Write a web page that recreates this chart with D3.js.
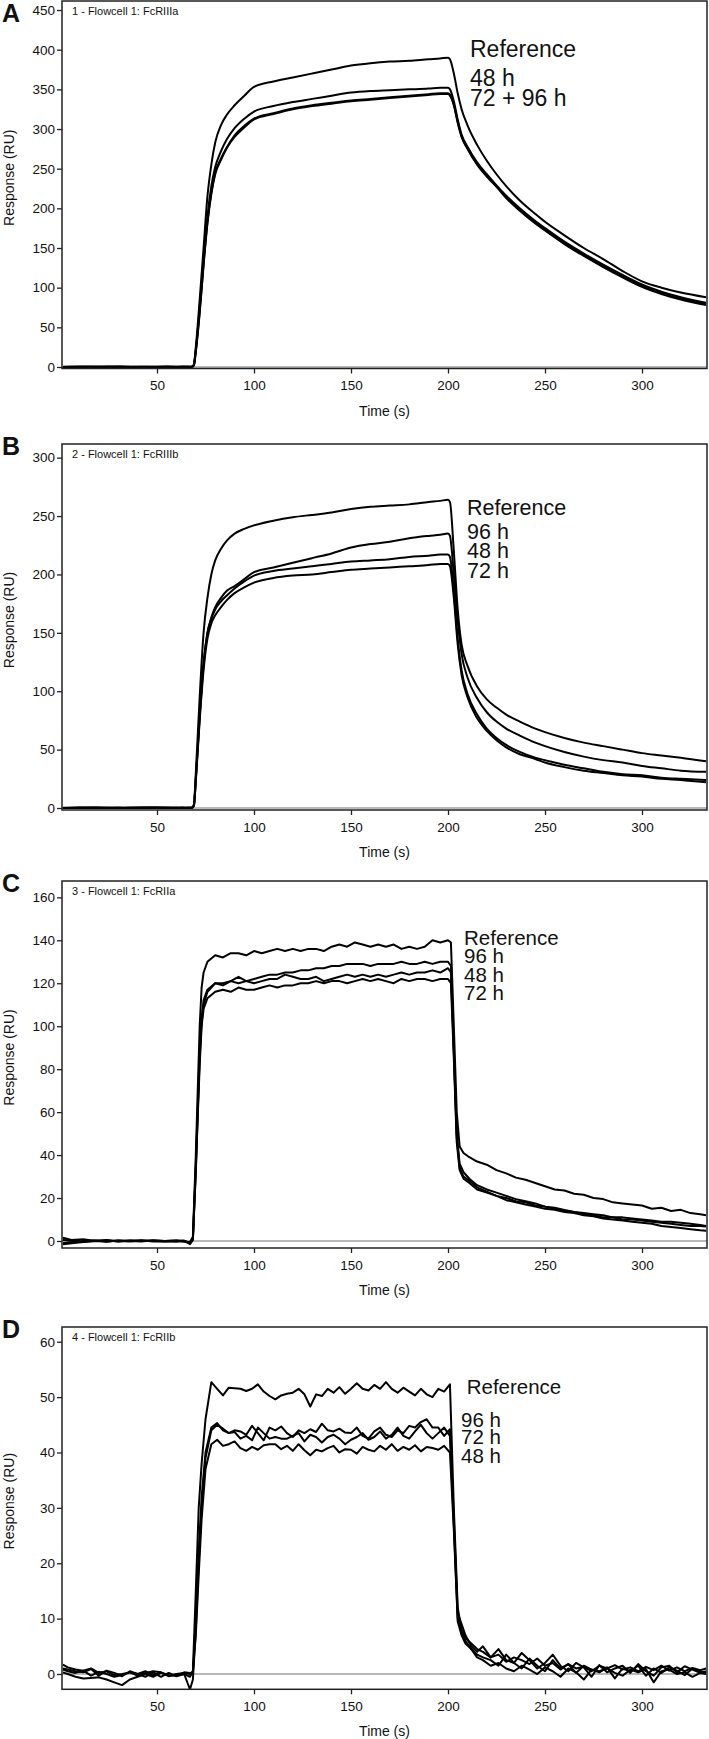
<!DOCTYPE html>
<html><head><meta charset="utf-8">
<script src="https://cdn.jsdelivr.net/npm/d3@7"></script>
<style>
body{margin:0;background:#fff}
svg{display:block}
text{font-family:"Liberation Sans",Arial,Helvetica,sans-serif;fill:#111}
</style>
</head><body>
<svg id="c" width="709" height="1739"></svg>
<script>
// ---------------- DATA ----------------
const xTicks = [50,100,150,200,250,300];
const xLabel = "Time (s)";
const yLabel = "Response (RU)";

// Panel A : FcRIIIa
const titleA = "1 - Flowcell 1: FcRIIIa";
const yTicksA = [0,50,100,150,200,250,300,350,400,450];
const labelsA = ["Reference","48 h","72 + 96 h"];
const timeA = [1.5,10,20,30,40,50,60,66,68,69,70,72,74,76,78,80,83,86,90,95,100,110,120,130,140,150,160,170,180,190,196,200,201,203,205,207,210,215,220,225,230,237,245,250,260,270,280,290,300,310,320,333];
const refA = [0,0.5,0,0.3,0,0.4,0,0.2,0.5, 3,25,85,150,215,255,283,305,318,330, 342,353,360,365,370,375,380,383,385,386, 388,389,390,388,370,345,325,305,280,260, 243,228,210,193,183,166,150,136,121,108, 100,94,88];
const h48A = [0,0.3,0.5,0,0.2,0,0.4,0,0.3, 3,22,75,135,190,228,252,272,287,301, 313,322,329,334,338,342,346,348,349,350, 351,352,352,350,335,312,293,278,258,243, 229,216,200,184,175,158,143,129,116,104, 95,88,81];
const h72A = [0,0,0.4,0.2,0,0.3,0,0.5,0, 2,20,70,130,183,220,245,263,277,292, 304,313,320,326,330,333,336,338,340,342, 344,345,345,343,330,308,290,275,255,240, 227,213,197,181,172,155,140,126,113,101, 92,85,78];
const h96A = [0.3,0,0,0.5,0.2,0,0.3,0,0.4, 2,19,68,128,181,218,243,261,276,290, 302,312,319,325,329,332,335,337,339,341, 343,344,344,342,331,309,291,276,256,241, 228,214,198,182,173,156,141,127,114,102, 93,86,79];

// Panel B : FcRIIIb
const titleB = "2 - Flowcell 1: FcRIIIb";
const yTicksB = [0,50,100,150,200,250,300];
const labelsB = ["Reference","96 h","48 h","72 h"];
const timeB = timeA;
const refB = [0,0.5,0.3,0,0.5,0.2,0,0.4,0.3, 3,30,95,150,180,200,212,222,229,235, 239,242,246,249,251,253,256,258,259,260, 262,263,264,262,220,170,140,122,104,93, 86,80,74,68,65,60,56,53,50,47, 45,43,40];
const h96B = [0,0,0.4,0.2,0,0.4,0.3,0,0.5, 2,25,80,125,150,163,172,180,186,190, 196,202,206,210,214,218,223,226,228,231, 233,234,235,233,200,160,132,112,94,82, 74,68,62,56,53,48,44,41,39,36, 34,32,31];
const h48B = [0.3,0,0,0.4,0.2,0,0.5,0,0.2, 2,24,78,122,150,162,170,177,182,188, 194,199,203,205,207,209,211,212,213,215, 216,217,217,215,185,145,118,98,80,68, 60,54,48,43,41,37,34,31,29,28, 26,25,24];
const h72B = [0,0.4,0.2,0,0.3,0.5,0,0.3,0, 2,23,75,118,145,158,165,172,178,184, 189,193,197,199,200,202,204,205,206,207, 208,209,209,207,180,140,114,95,77,66, 58,52,46,42,39,35,32,30,28,27, 25,24,22];

// Panel C : FcRIIa
const titleC = "3 - Flowcell 1: FcRIIa";
const yTicksC = [0,20,40,60,80,100,120,140,160];
const labelsC = ["Reference","96 h","48 h","72 h"];
const timeC = [1.5,6,12,18,24,30,36,42,48,54,60,64, 67,68.5,70,71,72,73,74,76,
  80,84,88,92,96,100,104,108,112,116,120,124,128,132,136,140,144,148,152,156,160,164,168,172,176,180,184,188,192,196,200,
  201.5,203,204.5,206,208,211,215,
  220,225,230,235,240,245,250,255,260,265,270,275,280,285,290,295,300,305,310,315,320,325,330,333];
const refC = [1.5,0.5,0.8,0,0.5,-0.3,0.3,0,0.2,0,0.2,-0.3,
  -0.5,2,40,70,100,118,125,130,
  133,132,134,134,133,135,134,135,136,135,136,135,136,136,135,137,138,137,139,138,137,138,137,138,136,137,136,137,140,139,140,
  139,100,60,44,41,39,37,
  35.5,33,31.5,29.5,28.5,27,25.5,24,23.5,22,21.5,20,19.5,18,17.5,17,16.5,15,15.5,14,14.5,13,12.5,12];
const h96C = [-1,-0.5,0,0.3,-0.2,0.2,0,0.3,-0.2,0,0.2,0,
  -0.8,1,35,62,88,104,112,117,
  120,120,121,120,121,122,123,124,124,125,125,126,126,127,127,128,128,129,129,129,128,129,129,129,130,129,129,130,129,130,130,
  128,90,50,36,32,29,26,
  24,22.5,21,19.5,18.5,17.5,16,15.5,14.5,13.5,13,12.5,12,11,11,10.5,10,9.5,9,9,8.5,8,7.5,7];
const h48C = [0.5,0.2,-0.3,0,0.3,0,-0.2,0.2,0,-0.3,0,0.2,
  -1,1,33,60,85,102,110,116,
  120,119,121,123,121,120,121,122,122,124,123,122,122,123,121,122,123,124,123,124,123,124,123,124,125,124,125,125,126,125,127,
  125,88,48,34,30,28,25,
  23,21,20,18.5,18,16.5,16,15,14,13.5,12.5,12,11,11,10,10,9.5,9,8.5,8,7.5,7,7,6.7];
const h72C = [-1.5,-1,-0.5,0,-0.3,0.2,0,-0.2,0.3,0,-0.3,0,
  -1.5,0.5,32,58,82,100,108,113,
  116,117,116,118,117,117,118,119,118,119,119,120,120,121,120,121,121,120,121,122,121,122,121,120,122,121,122,122,121,122,122,
  120,85,46,33,29,27,24,
  22.5,21,19,18,17,16,15,14.5,13.5,13,12,11.5,10.5,10,9.5,9,8.5,8,7,6.5,6,5.5,5,4.8];

// Panel D : FcRIIb
const titleD = "4 - Flowcell 1: FcRIIb";
const yTicksD = [0,10,20,30,40,50,60];
const labelsD = ["Reference","96 h","72 h","48 h"];
const timeD = [1.5,4,8,12,16,20,24,28,32,36,40,44,48,52,56,60,64, 67,68.5,70,71.5,73,75,78,
  81,84,87,90,93,96,99,102,105,108,111,114,117,120,123,126,129,132,135,138,141,144,147,150,153,156,159,162,165,168,171,174,177,180,183,186,189,192,195,198,201,
  203,205,207,209,212,215,
  218,222,226,230,234,238,242,246,250,254,258,262,266,270,274,278,282,286,290,294,298,302,306,310,314,318,322,326,330,333];
const refD = [0.8,0.5,0.2,0.6,-0.3,0.4,0,-0.5,-0.2,0.3,0,0.5,-0.2,0.3,-0.4,0,0.2,
  0,0.5,15,30,38,46,52.7,
  51.5,50.3,51.7,51.6,51.5,51.1,51.5,52.3,51,50.2,49.6,50.3,50.6,50.8,51.5,50.5,48.3,50.5,50.2,51.5,50.8,51.8,50.6,51.5,52.5,51.5,51.2,52.2,51.5,52.7,51.5,50.8,51.7,51,50.3,51.5,50.5,50,51.5,51,52.3,
  30,12,8,6.5,5.5,4.5,
  4,3,3.5,2.2,3,2.5,1.8,2.8,1.5,2,0.8,1.8,1,1.3,0.5,1.5,1,1.6,0.8,1.2,0.5,1.3,0.7,1.5,0.6,1.2,0.5,1.1,0.7,1];
const h96D = [1.7,1.2,0.8,0.6,1,0.2,0.5,-0.2,0,0.3,-0.3,0.2,0.5,0.3,-0.2,-0.3,0.3,
  0.2,0,10,22,32,40,44.5,
  45.3,44,43.5,44,43.8,43.2,44.8,43.5,42.2,44.5,44,44.7,43.5,42.8,44,43.5,44.2,43.7,45.2,44,43.8,44.3,43.6,43.5,44.5,43,42.5,43.8,44.5,43.2,42.8,44,43.5,44.8,44.5,45.5,46,44.5,44.5,43,44.2,
  28,11,9,7,5,4,
  5,3,4.5,2.5,2,3.8,2.5,1,2,3.5,1.5,0.5,2,1.2,-0.5,1.6,0.3,1,1.5,0.2,1.8,0.5,-0.3,1.2,1.5,0.3,1.4,0.8,0.2,0.5];
const h72D = [1,0.8,0.5,0.3,0.9,-0.3,0.6,0.2,-0.4,0.5,0,-0.5,0.3,-0.5,0.2,-0.4,0,
  -2.8,-1,8,20,30,39,44,
  45,44.3,43.5,43.7,42.5,43,42.2,44.5,43.5,42.5,42.8,42.5,42.5,43,43.5,42,43.2,42.8,41.8,42.8,43.2,42.5,41.5,42.3,42.8,43.5,42.3,42.8,43.8,42.5,43.2,44.5,43,42.5,43.8,45,43.5,42.5,43.5,44.5,43,
  27,10,7.5,6,4.5,3.5,
  3,2.5,1.5,3.5,2,1,2.8,1.5,0.5,2.5,1,1.8,0.2,1.5,0.8,0.3,1.2,-0.8,1,0.5,1.5,-0.3,1,0.2,1.2,0.6,-0.2,1,0.5,0.3];
const h48D = [0.3,0,-0.5,-0.8,-0.7,-0.6,-1,-1.5,-2,-1,-0.5,0,-0.5,0.2,-0.3,-0.2,0,
  -0.5,0.5,7,18,28,37,41.5,
  42.3,41.2,41.5,42,40.8,40.3,41,40.5,41.3,41.5,41.5,40.6,41.2,40.3,41.5,40.4,39.5,40.5,40.2,40.8,41.2,40,40.6,40.5,39.8,41,40.5,40.2,41.2,40.5,41.5,40.3,41,40.5,41.3,40.2,41,40.8,40.5,41.2,40,
  26,9.5,7,5.5,4.5,3,
  2.5,1.5,2,1,0.5,1.5,0.8,0,1.2,0.5,-0.5,1,0.3,-1,0.8,0.5,1,0.2,-0.3,0.8,0.3,0.9,-1.5,0.5,0.8,0,0.3,-0.5,0.2,0];

// ---------------- LAYOUT ----------------
const panels = [
  {letter:"A", title:titleA, time:timeA, series:[refA,h48A,h72A,h96A], yTicks:yTicksA, yDom:[-1.9,461.4],
   top:1, bottom:368.5, curve:d3.curveMonotoneX, letterY:22,
   labels:labelsA, labelX:[470,470,470], labelY:[56.7,86,106], labelSize:23},
  {letter:"B", title:titleB, time:timeB, series:[refB,h96B,h48B,h72B], yTicks:yTicksB, yDom:[-1.7,311.7],
   top:444, bottom:810, curve:d3.curveMonotoneX, letterY:455,
   labels:labelsB, labelX:[467,467,467,467], labelY:[515,539.3,558.3,578.3], labelSize:21.5},
  {letter:"C", title:titleC, time:timeC, series:[refC,h96C,h48C,h72C], yTicks:yTicksC, yDom:[-3.26,167.6],
   top:881, bottom:1248, curve:d3.curveLinear, letterY:892,
   labels:labelsC, labelX:[464,464,464,464], labelY:[945,963.3,982.3,1000], labelSize:20.5},
  {letter:"D", title:titleD, time:timeD, series:[refD,h96D,h72D,h48D], yTicks:yTicksD, yDom:[-2.76,62.66],
   top:1327, bottom:1689.3, curve:d3.curveLinear, letterY:1338,
   labels:labelsD, labelX:[466.7,461,461,461], labelY:[1394,1426.7,1444.3,1463.3], labelSize:20.5}
];

const svg = d3.select("#c");
const L = 62, R = 707;
const x = d3.scaleLinear().domain([1.03,333.5]).range([L,R]);

panels.forEach((p,i) => {
  const y = d3.scaleLinear().domain(p.yDom).range([p.bottom,p.top]);
  const g = svg.append("g");
  const cid = "clip"+i;
  g.append("clipPath").attr("id",cid).append("rect")
    .attr("x",L).attr("y",p.top).attr("width",R-L).attr("height",p.bottom-p.top);

  // zero line
  g.append("line").attr("x1",L).attr("x2",R).attr("y1",y(0)).attr("y2",y(0))
    .attr("stroke","#a0a0a0").attr("stroke-width",1.5);

  // curves
  const line = d3.line().x((d,k)=>x(p.time[k])).y(d=>y(d)).curve(p.curve);
  const cg = g.append("g").attr("clip-path",`url(#${cid})`);
  p.series.forEach(s => {
    cg.append("path").attr("d",line(s)).attr("fill","none")
      .attr("stroke","#000").attr("stroke-width",2).attr("stroke-linejoin","round");
  });

  // frame
  g.append("rect").attr("x",L).attr("y",p.top).attr("width",R-L).attr("height",p.bottom-p.top)
    .attr("fill","none").attr("stroke","#222").attr("stroke-width",1.5);

  // axes
  const ax = g.append("g").attr("transform",`translate(0,${p.bottom})`)
    .call(d3.axisBottom(x).tickValues(xTicks).tickSize(5).tickPadding(7).tickFormat(d3.format("d")));
  const ay = g.append("g").attr("transform",`translate(${L},0)`)
    .call(d3.axisLeft(y).tickValues(p.yTicks).tickSize(5).tickPadding(2).tickFormat(d3.format("d")));
  [ax,ay].forEach(a => {
    a.select(".domain").remove();
    a.selectAll(".tick line").attr("stroke","#222").attr("stroke-width",1.3);
    a.selectAll(".tick text").attr("font-size",13.5).attr("fill","#111")
      .style("font-family",'"Liberation Sans",Arial,sans-serif');
  });

  // axis titles
  g.append("text").attr("x",(L+R)/2).attr("y",p.bottom+47).attr("text-anchor","middle")
    .attr("font-size",14).text(xLabel);
  const cy = (p.top+p.bottom)/2 - 7;
  g.append("text").attr("transform",`translate(14,${cy}) rotate(-90)`).attr("text-anchor","middle")
    .attr("font-size",14).text(yLabel);

  // panel letter & title
  g.append("text").attr("x",2).attr("y",p.letterY).attr("font-size",25).attr("font-weight","bold")
    .attr("fill","#000").text(p.letter);
  g.append("text").attr("x",72).attr("y",p.top+13.5).attr("font-size",11).text(p.title);

  // series labels
  p.labels.forEach((t,k) => {
    g.append("text").attr("x",p.labelX[k]).attr("y",p.labelY[k]).attr("font-size",p.labelSize)
      .attr("fill","#000").text(t);
  });
});
</script>
</body></html>
